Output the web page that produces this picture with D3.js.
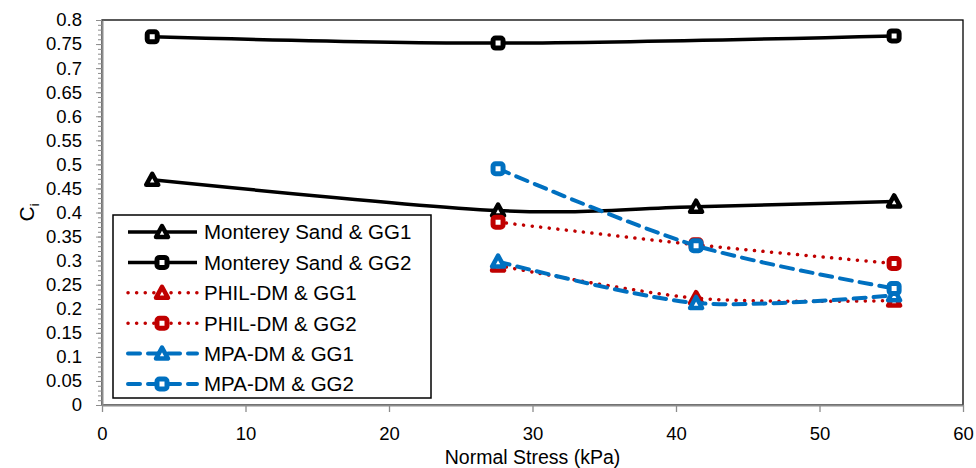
<!DOCTYPE html>
<html>
<head>
<meta charset="utf-8">
<script src="https://cdn.jsdelivr.net/npm/d3@7"></script>
<style>
  body { margin: 0; background: #fff; }
  svg { font-family: Arial, "Liberation Sans", sans-serif; }
</style>
</head>
<body>
<svg class="chart"></svg>
<script>
// data
const stress = [3.5, 27.6, 41.4, 55.2]
const msGG1 = [0.468, 0.404, 0.412, 0.423]
const msGG2 = [0.765, 0.752, null, 0.767]
const philGG1 = [null, 0.290, 0.222, 0.217]
const philGG2 = [null, 0.380, 0.333, 0.294]
const mpaGG1 = [null, 0.298, 0.212, 0.228]
const mpaGG2 = [null, 0.491, 0.331, 0.242]
const seriesNames = ['Monterey Sand & GG1', 'Monterey Sand & GG2', 'PHIL-DM & GG1',
                     'PHIL-DM & GG2', 'MPA-DM & GG1', 'MPA-DM & GG2']
const xTicks = [0, 10, 20, 30, 40, 50, 60]
const yTicks = d3.range(0, 0.8001, 0.05)

let width = 976, height = 468
let margin = {top: 20, right: 13, bottom: 63, left: 102}
let innerW = width - margin.left - margin.right,
    innerH = height - margin.top - margin.bottom

let x = d3.scaleLinear().domain([0, 60]).range([0, innerW])
let y = d3.scaleLinear().domain([0, 0.8]).range([innerH, 0])

let svg = d3.select('.chart').attr('width', width).attr('height', height)
let g = svg.append('g').attr('transform', `translate(${margin.left},${margin.top})`)

// plot area border (top + right show in black)
g.append('rect')
    .attr('width', innerW).attr('height', innerH)
    .attr('fill', 'none').attr('stroke', '#000').attr('stroke-width', 1.3)

const grey = '#8c8c8c'

// y axis: minor ticks every 0.01, majors every 0.05
let yMinor = g.append('g').call(d3.axisLeft(y).tickValues(d3.range(0, 0.8001, 0.01)).tickSize(4).tickFormat(''))
yMinor.select('.domain').remove()
yMinor.selectAll('line').attr('stroke', grey)
let yAxis = g.append('g').call(d3.axisLeft(y).tickValues(yTicks).tickSize(6).tickSizeOuter(0)
    .tickFormat(d => d3.format('~g')(+d.toFixed(2))))
yAxis.select('.domain').attr('stroke', grey).attr('stroke-width', 2)
yAxis.selectAll('line').attr('stroke', grey)
yAxis.selectAll('text').attr('font-size', 18.5).attr('fill', '#000').attr('x', -20)
    .attr('font-family', 'Arial, "Liberation Sans", sans-serif')

let xAxis = g.append('g').attr('transform', `translate(0,${innerH})`)
    .call(d3.axisBottom(x).tickValues(xTicks).tickSize(7).tickSizeOuter(0))
xAxis.select('.domain').attr('stroke', grey).attr('stroke-width', 2)
xAxis.selectAll('line').attr('stroke', grey).attr('stroke-width', 1.3)
xAxis.selectAll('text').attr('font-size', 18.5).attr('fill', '#000').attr('dy', '1.35em')
    .attr('font-family', 'Arial, "Liberation Sans", sans-serif')

// axis titles
svg.append('text')
    .attr('x', margin.left + innerW / 2).attr('y', 464)
    .attr('text-anchor', 'middle').attr('font-size', 19.5)
    .text('Normal Stress (kPa)')
let yTitle = svg.append('text')
    .attr('transform', `translate(34,${margin.top + y(0.4)}) rotate(-90)`)
    .attr('text-anchor', 'middle').attr('font-size', 21)
yTitle.append('tspan').text('C')
yTitle.append('tspan').attr('font-size', 13).attr('dy', 5).text('i')

const styles = [
    {color: '#000', dash: null, cap: 'butt', width: 3.5, marker: 'tri'},
    {color: '#000', dash: null, cap: 'butt', width: 3.5, marker: 'sq'},
    {color: '#c00000', dash: '0.1 8.5', cap: 'round', width: 3.5, marker: 'tri'},
    {color: '#c00000', dash: '0.1 8.5', cap: 'round', width: 3.5, marker: 'sq'},
    {color: '#0070c0', dash: '12 8', cap: 'round', width: 4, marker: 'tri'},
    {color: '#0070c0', dash: '12 8', cap: 'round', width: 4, marker: 'sq'}
]
const allSeries = [msGG1, msGG2, philGG1, philGG2, mpaGG1, mpaGG2]

let line = d3.line()
    .x(d => x(d[0])).y(d => y(d[1]))
    .curve(d3.curveCardinal.tension(0.1))

function drawMarker(sel, type, color) {
    if (type === 'sq') {
        sel.append('rect')
            .attr('x', -5).attr('y', -5).attr('width', 10).attr('height', 10)
            .attr('rx', 2.5)
            .attr('fill', '#fff').attr('stroke', color).attr('stroke-width', 5)
    } else {
        sel.append('path')
            .attr('d', 'M0,-6 L6,5 L-6,5 Z')
            .attr('fill', '#fff').attr('stroke', color).attr('stroke-width', 4.5)
            .attr('stroke-linejoin', 'round')
    }
}

allSeries.forEach((vals, i) => {
    let st = styles[i]
    let pts = stress.map((s, j) => [s, vals[j]]).filter(p => p[1] != null)
    g.append('path')
        .datum(pts)
        .attr('d', line)
        .attr('fill', 'none')
        .attr('stroke', st.color)
        .attr('stroke-width', st.width)
        .attr('stroke-dasharray', st.dash)
        .attr('stroke-linecap', st.cap)
    g.selectAll(null).data(pts).enter().append('g')
        .attr('transform', d => `translate(${x(d[0])},${y(d[1])})`)
        .each(function() { drawMarker(d3.select(this), st.marker, st.color) })
})

// legend
let legend = svg.append('g').attr('transform', 'translate(113,215)')
legend.append('rect')
    .attr('width', 318).attr('height', 183)
    .attr('fill', '#fff').attr('stroke', '#000').attr('stroke-width', 1.5)
seriesNames.forEach((name, i) => {
    let st = styles[i]
    let row = legend.append('g').attr('transform', `translate(0,${17 + i * 30.4})`)
    row.append('line')
        .attr('x1', 15).attr('x2', 84).attr('y1', 0).attr('y2', 0)
        .attr('stroke', st.color).attr('stroke-width', st.width)
        .attr('stroke-dasharray', st.dash).attr('stroke-linecap', st.cap)
    let m = row.append('g').attr('transform', 'translate(49,0)')
    drawMarker(m, st.marker, st.color)
    row.append('text')
        .attr('x', 91).attr('y', 0).attr('dy', '0.36em')
        .attr('font-size', 20.5)
        .text(name)
})
</script>
</body>
</html>
